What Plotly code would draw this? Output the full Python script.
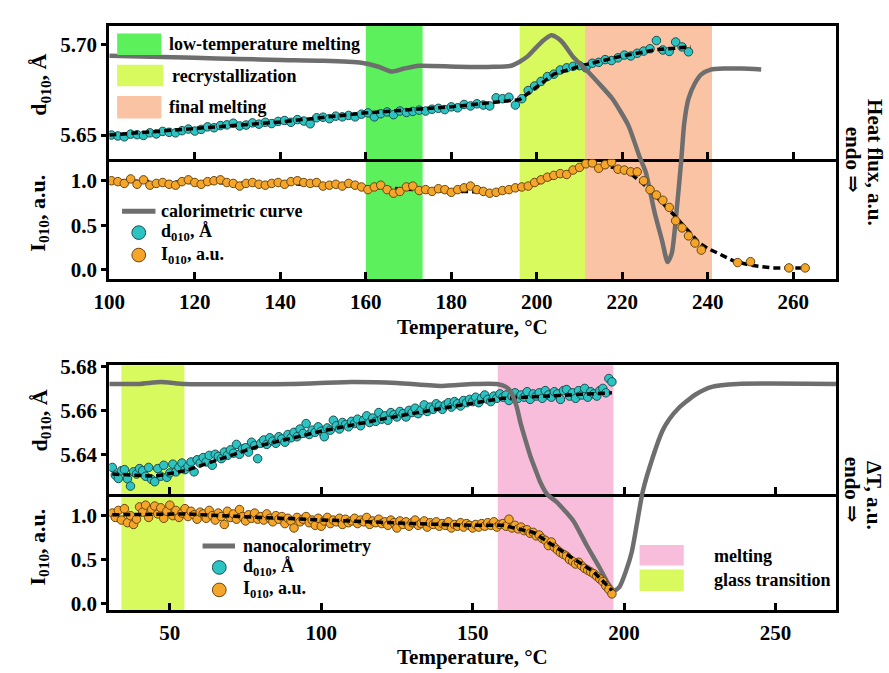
import plotly.graph_objects as go

# ---------------- DATA ----------------
# Top panel (DSC heating): temperature grid of XRD frames
T_top = [100.5, 102.0, 103.5, 105.0, 106.5, 108.0, 109.5, 111.0, 112.5, 114.0,
         115.5, 117.0, 118.5, 120.0, 121.5, 123.0, 124.5, 126.0, 127.5, 129.0,
         130.5, 132.0, 133.5, 135.0, 136.5, 138.0, 139.5, 141.0, 142.5, 144.0,
         145.5, 147.0, 148.5, 150.0, 151.5, 153.0, 154.5, 156.0, 157.5, 159.0,
         160.5, 162.0, 163.5, 165.0, 166.5, 168.0, 169.5, 171.0, 172.5, 174.0,
         175.5, 177.0, 178.5, 180.0, 181.5, 183.0, 184.5, 186.0, 187.5, 189.0,
         190.5, 192.0, 193.5, 195.0, 196.5, 198.0, 199.5, 201.0, 202.5, 204.0,
         205.5, 207.0, 208.5, 210.0, 211.5, 213.0, 214.5, 216.0, 217.5, 219.0,
         220.5, 222.0, 223.5, 225.0, 226.5, 228.0, 229.5, 231.0, 232.5, 234.0,
         235.5, 237.0, 238.5]
d_top = [5.6500, 5.6495, 5.6490, 5.6505, 5.6502, 5.6498, 5.6512, 5.6506, 5.6520, 5.6515,
         5.6512, 5.6524, 5.6533, 5.6522, 5.6531, 5.6545, 5.6540, 5.6552, 5.6556, 5.6565,
         5.6550, 5.6555, 5.6567, 5.6560, 5.6570, 5.6563, 5.6575, 5.6580, 5.6570, 5.6585,
         5.6577, 5.6562, 5.6595, 5.6598, 5.6590, 5.6604, 5.6600, 5.6608, 5.6600, 5.6615,
         5.6622, 5.6600, 5.6617, 5.6627, 5.6612, 5.6632, 5.6624, 5.6630, 5.6637, 5.6632,
         5.6642, 5.6647, 5.6640, 5.6655, 5.6650, 5.6668, 5.6660, 5.6672, 5.6665, 5.6660,
         5.6705, 5.6700, 5.6708, 5.6665, 5.6700, 5.6745, 5.6770, 5.6795, 5.6822, 5.6835,
         5.6858, 5.6870, 5.6878, 5.6882, 5.6870, 5.6895, 5.6900, 5.6915, 5.6910, 5.6925,
         5.6940, 5.6935, 5.6950, 5.6962, 5.6975, 5.7020, 5.6968, 5.6960, 5.7012, 5.6985,
         5.6958]
I_top = [1.00, 0.99, 0.97, 1.02, 0.96, 1.01, 0.95, 0.97, 0.98, 0.96,
         0.95, 0.99, 1.01, 0.98, 0.96, 0.99, 1.00, 1.01, 0.98, 0.97,
         0.94, 0.97, 0.98, 0.96, 0.95, 0.97, 0.98, 0.96, 0.99, 1.00,
         0.98, 0.97, 0.98, 0.94, 0.95, 0.96, 0.94, 0.97, 0.95, 0.93,
         0.90, 0.93, 0.95, 0.90, 0.86, 0.88, 0.93, 0.94, 0.89, 0.90,
         0.88, 0.91, 0.90, 0.87, 0.90, 0.92, 0.94, 0.90, 0.88, 0.86,
         0.87, 0.89, 0.90, 0.92, 0.93, 0.94, 0.98, 1.01, 1.04, 1.06,
         1.08, 1.07, 1.12, 1.15, 1.19, 1.20, 1.14, 1.18, 1.21, 1.13,
         1.12, 1.10, 1.10, 1.00, 0.90, 0.84, 0.78, 0.70, 0.55, 0.47,
         0.38, 0.30, 0.22]
T_top_tail = [247.0, 250.0, 259.0, 262.8]
I_top_tail = [0.08, 0.09, 0.02, 0.02]

T_fit_top_d = [100, 120, 140, 160, 180, 196, 204, 211, 220, 228, 236]
d_fit_top = [5.6500, 5.6535, 5.6572, 5.6622, 5.6655, 5.6695, 5.6835, 5.6885, 5.6935, 5.6970, 5.6985]
T_fit_top_I = [100, 120, 140, 160, 175, 190, 200, 212, 218, 222, 226, 232, 238, 240, 246, 250, 255, 262]
I_fit_top = [1.00, 0.98, 0.97, 0.93, 0.89, 0.87, 0.97, 1.18, 1.15, 1.08, 0.92, 0.62, 0.30, 0.24, 0.10, 0.05, 0.02, 0.02]

# DSC heat flux (a.u., endo down)
T_dsc = [100, 110, 120, 130, 140, 150, 159, 163, 166, 169, 172.4, 181.6, 190, 194, 196, 198,
         199.3, 201.6, 203.4, 205, 206.2, 208.5, 211.5, 214.5, 217.7, 221.4, 224.1, 225.5,
         227.6, 229.3, 230.6, 231.6, 232.6, 233.8, 234.5, 235.5, 237, 238.5, 240.7, 244, 248, 252.5]
hf_dsc = [0.881, 0.877, 0.873, 0.869, 0.865, 0.862, 0.854, 0.838, 0.819, 0.831, 0.842, 0.838,
          0.838, 0.842, 0.858, 0.881, 0.904, 0.942, 0.962, 0.950, 0.931, 0.877, 0.827, 0.773,
          0.712, 0.608, 0.481, 0.423, 0.262, 0.154, 0.069, 0.104, 0.250, 0.469, 0.615, 0.712,
          0.773, 0.808, 0.827, 0.831, 0.831, 0.827]

# Bottom panel (nanocalorimetry)
T_bot = [31, 32, 33, 34, 35, 36, 37, 38, 39, 40, 41, 42, 43, 44, 45, 46, 47, 48, 49, 50,
         51, 52, 53, 54, 55, 56, 57, 58, 59, 60, 61, 62, 63, 64, 65, 66, 67, 68, 69, 70,
         71, 72, 73, 74, 75, 76, 77, 78, 79, 80, 81, 82, 83, 84, 85, 86, 87, 88, 89, 90,
         91, 92, 93, 94, 95, 96, 97, 98, 99, 100, 101, 102, 103, 104, 105, 106, 107, 108, 109, 110,
         111, 112, 113, 114, 115, 116, 117, 118, 119, 120, 121, 122, 123, 124, 125, 126, 127, 128, 129, 130,
         131, 132, 133, 134, 135, 136, 137, 138, 139, 140, 141, 142, 143, 144, 145, 146, 147, 148, 149, 150,
         151, 152, 153, 154, 155, 156, 157, 158, 159, 160, 161, 162, 163, 164, 165, 166, 167, 168, 169, 170,
         171, 172, 173, 174, 175, 176, 177, 178, 179, 180, 181, 182, 183, 184, 185, 186, 187, 188, 189, 190,
         191, 192, 193, 194, 195, 196]
d_bot = [5.6340, 5.6305, 5.6290, 5.6325, 5.6330, 5.6288, 5.6255, 5.6320, 5.6310, 5.6335,
         5.6325, 5.6300, 5.6340, 5.6285, 5.6275, 5.6335, 5.6300, 5.6350, 5.6295, 5.6315,
         5.6355, 5.6320, 5.6340, 5.6360, 5.6330, 5.6345, 5.6365, 5.6320, 5.6375, 5.6360,
         5.6385, 5.6365, 5.6395, 5.6350, 5.6400, 5.6390, 5.6380, 5.6410, 5.6395, 5.6420,
         5.6405, 5.6445, 5.6400, 5.6425, 5.6430, 5.6410, 5.6455, 5.6440, 5.6380, 5.6450,
         5.6465, 5.6445, 5.6475, 5.6460, 5.6450, 5.6480, 5.6470, 5.6455, 5.6490, 5.6475,
         5.6500, 5.6480, 5.6515, 5.6495, 5.6540, 5.6490, 5.6510, 5.6500, 5.6525, 5.6505,
         5.6480, 5.6520, 5.6510, 5.6555, 5.6530, 5.6515, 5.6545, 5.6535, 5.6525, 5.6550,
         5.6540, 5.6560, 5.6530, 5.6555, 5.6575, 5.6545, 5.6565, 5.6550, 5.6590, 5.6560,
         5.6575, 5.6555, 5.6590, 5.6580, 5.6570, 5.6595, 5.6585, 5.6570, 5.6600, 5.6590,
         5.6610, 5.6585, 5.6600, 5.6625, 5.6595, 5.6615, 5.6605, 5.6630, 5.6620, 5.6605,
         5.6625, 5.6635, 5.6615, 5.6640, 5.6630, 5.6620, 5.6645, 5.6635, 5.6650, 5.6640,
         5.6660, 5.6635, 5.6655, 5.6670, 5.6650, 5.6640, 5.6665, 5.6655, 5.6675, 5.6660,
         5.6670, 5.6645, 5.6665, 5.6680, 5.6655, 5.6670, 5.6660, 5.6685, 5.6650, 5.6675,
         5.6665, 5.6680, 5.6655, 5.6690, 5.6670, 5.6660, 5.6685, 5.6675, 5.6650, 5.6690,
         5.6695, 5.6665, 5.6680, 5.6655, 5.6690, 5.6670, 5.6700, 5.6660, 5.6685, 5.6675,
         5.6665, 5.6690, 5.6700, 5.6680, 5.6745, 5.6730]
I_bot = [1.03, 0.98, 1.06, 0.95, 1.08, 0.92, 1.00, 0.90, 0.96, 1.10,
         1.04, 1.12, 0.98, 1.07, 1.11, 1.02, 1.09, 0.97, 1.05, 1.12,
         1.00, 1.06, 0.98, 1.03, 1.08, 0.99, 1.05, 1.01, 0.96, 1.04,
         1.02, 0.97, 1.06, 1.00, 0.95, 1.03, 0.99, 0.90, 1.05, 0.98,
         1.02, 0.96, 1.07, 0.99, 0.94, 1.01, 0.97, 1.03, 0.96, 0.99,
         0.95, 1.02, 0.97, 0.93, 1.00, 0.96, 0.99, 0.91, 0.97, 0.94,
         0.86, 0.98, 0.93, 0.96, 0.99, 0.92, 0.95, 0.89, 0.97, 0.88,
         0.94, 0.98, 0.91, 0.95, 0.93, 0.97, 0.90, 0.96, 0.92, 0.94,
         0.97, 0.91, 0.95, 0.93, 0.98, 0.90, 0.94, 0.92, 0.96, 0.91,
         0.93, 0.89, 0.95, 0.92, 0.86, 0.94, 0.90, 0.93, 0.88, 0.92,
         0.95, 0.89, 0.91, 0.94, 0.87, 0.92, 0.90, 0.93, 0.88, 0.91,
         0.89, 0.93, 0.86, 0.90, 0.88, 0.92, 0.87, 0.91, 0.89, 0.86,
         0.90, 0.87, 0.91, 0.88, 0.92, 0.89, 0.93, 0.87, 0.90, 0.91,
         0.88, 0.96, 0.86, 0.89, 0.85, 0.87, 0.83, 0.84, 0.80, 0.81,
         0.77, 0.78, 0.74, 0.72, 0.66, 0.70, 0.64, 0.61, 0.58, 0.56,
         0.54, 0.50, 0.48, 0.45, 0.47, 0.43, 0.40, 0.38, 0.36, 0.34,
         0.31, 0.28, 0.25, 0.20, 0.16, 0.11]

T_fit_bot_d = [31, 45, 55, 80, 100, 120, 140, 160, 196]
d_fit_bot = [5.6310, 5.6300, 5.6325, 5.6440, 5.6505, 5.6560, 5.6610, 5.6655, 5.6680]
T_fit_bot_I = [31, 55, 80, 100, 130, 150, 160, 170, 180, 190, 196]
I_fit_bot = [1.01, 1.02, 0.98, 0.95, 0.91, 0.89, 0.89, 0.81, 0.58, 0.36, 0.15]

T_nano = [30, 40, 47, 55, 90, 110, 125, 140, 150, 158, 161, 162.6, 164.5, 165.9, 167.5, 169.2,
          171, 172.4, 174.6, 177.8, 180.5, 183.4, 187.6, 191.9, 195, 196.8, 198.5, 200.7, 202.5,
          204, 206.2, 209.5, 212.7, 215, 218, 223.5, 229, 237.5, 270]
dT_nano = [0.924, 0.924, 0.932, 0.924, 0.924, 0.932, 0.928, 0.916, 0.924, 0.924, 0.912, 0.892,
           0.833, 0.761, 0.693, 0.625, 0.566, 0.522, 0.474, 0.442, 0.406, 0.363, 0.267, 0.175,
           0.104, 0.080, 0.096, 0.163, 0.235, 0.335, 0.486, 0.625, 0.733, 0.781, 0.825, 0.880,
           0.912, 0.924, 0.924]

bands_top = [(160.0, 173.3, "#5cf05c"), (196.0, 211.3, "#d8fa5e"), (211.3, 241.0, "#f9c3a4")]
bands_bot = [(34.0, 54.8, "#d8fa5e"), (158.3, 196.5, "#f9bddc")]

ticks_top_x = [100, 120, 140, 160, 180, 200, 220, 240, 260]
ticks_bot_x = [50, 100, 150, 200, 250]

# ---------------- STYLE / LAYOUT ----------------
W, H = 889, 673
def px(x): return x / W
def py(y): return 1 - y / H

FONT = "Liberation Serif, Times New Roman, DejaVu Serif, serif"
CYAN, CYAN_EDGE = "#2cc4c2", "#1d4f50"
ORANGE, ORANGE_EDGE = "#f4a52a", "#6a4610"
GRAY = "#6e6e6e"

XD = [px(95), px(835)]
D1 = [py(152), py(15)]
D2 = [py(275), py(152)]
D3 = [py(495), py(363)]
D4 = [py(614), py(495)]
DC1 = [py(275), py(15)]
DC2 = [py(614), py(363)]

fig = go.Figure()

mk_c = dict(color=CYAN, size=8.5, line=dict(color=CYAN_EDGE, width=1))
mk_o = dict(color=ORANGE, size=8.5, line=dict(color=ORANGE_EDGE, width=1))
fitline = dict(color="black", width=3.5, dash="7px,4px")

# calorimetric curves (drawn first)
fig.add_trace(go.Scatter(x=T_dsc, y=hf_dsc, xaxis="x", yaxis="y5", mode="lines",
                         line=dict(color=GRAY, width=4.5, shape="spline", smoothing=0.6)))
fig.add_trace(go.Scatter(x=T_nano, y=dT_nano, xaxis="x3", yaxis="y6", mode="lines",
                         line=dict(color=GRAY, width=4.5, shape="spline", smoothing=0.6)))

# top panel
fig.add_trace(go.Scatter(x=T_top[:len(d_top)], y=d_top, xaxis="x", yaxis="y", mode="markers", marker=mk_c))
fig.add_trace(go.Scatter(x=T_fit_top_d, y=d_fit_top, xaxis="x", yaxis="y", mode="lines", line=fitline))
fig.add_trace(go.Scatter(x=T_fit_top_I, y=I_fit_top, xaxis="x2", yaxis="y2", mode="lines", line=fitline))
fig.add_trace(go.Scatter(x=T_top + T_top_tail, y=I_top + I_top_tail, xaxis="x2", yaxis="y2",
                         mode="markers", marker=mk_o))
# bottom panel
fig.add_trace(go.Scatter(x=T_bot, y=d_bot, xaxis="x3", yaxis="y3", mode="markers", marker=mk_c))
fig.add_trace(go.Scatter(x=T_fit_bot_d, y=d_fit_bot, xaxis="x3", yaxis="y3", mode="lines", line=fitline))
fig.add_trace(go.Scatter(x=T_bot, y=I_bot, xaxis="x4", yaxis="y4", mode="markers", marker=mk_o))
fig.add_trace(go.Scatter(x=T_fit_bot_I, y=I_fit_bot, xaxis="x4", yaxis="y4", mode="lines", line=fitline))

tickfont = dict(family=FONT, size=21, color="black", weight="bold")
common = dict(showline=True, linecolor="black", linewidth=3, mirror=True, showgrid=False,
              zeroline=False, tickfont=tickfont, tickcolor="black", tickwidth=2.5)

xa = dict(common, ticks="inside", ticklen=7)
xa_low = dict(xa, mirror=False)
ya = dict(common, ticks="outside", ticklen=5)

shapes = []
for (a, b, c) in bands_top:
    shapes.append(dict(type="rect", xref="x", yref="paper", x0=a, x1=b, y0=DC1[0], y1=DC1[1],
                       fillcolor=c, line=dict(width=0), layer="below"))
for (a, b, c) in bands_bot:
    shapes.append(dict(type="rect", xref="x3", yref="paper", x0=a, x1=b, y0=DC2[0], y1=DC2[1],
                       fillcolor=c, line=dict(width=0), layer="below"))

ann = []
def text(x, y, s, size=18, angle=0, xanchor="left"):
    ann.append(dict(x=px(x), y=py(y), xref="paper", yref="paper", text=s, showarrow=False,
                    xanchor=xanchor, yanchor="middle", textangle=angle, borderpad=0,
                    font=dict(family=FONT, size=size, color="black", weight="bold")))

def rect(x0, y0, x1, y1, c):
    shapes.append(dict(type="rect", xref="paper", yref="paper", x0=px(x0), x1=px(x1),
                       y0=py(y1), y1=py(y0), fillcolor=c, line=dict(width=0), layer="above"))

def circ(cx, cy, r, c, e):
    shapes.append(dict(type="circle", xref="paper", yref="paper", x0=px(cx - r), x1=px(cx + r),
                       y0=py(cy + r), y1=py(cy - r), fillcolor=c, line=dict(color=e, width=1), layer="above"))

def hline(x0, x1, y):
    shapes.append(dict(type="line", xref="paper", yref="paper", x0=px(x0), x1=px(x1),
                       y0=py(y), y1=py(y), line=dict(color=GRAY, width=5), layer="above"))

# legend 1 (top)
rect(103, 23, 148, 45, "#5cf05c"); text(155, 34, "low-temperature melting")
rect(103, 55, 150, 77, "#d8fa5e"); text(158, 67, "recrystallization")
rect(103, 87, 148, 110, "#f9c3a4"); text(155, 98, "final melting")
# legend 2
hline(108, 142, 205); text(147, 205, "calorimetric curve")
circ(125, 227, 7, CYAN, CYAN_EDGE); text(147, 227, "d<sub>010</sub>, Å")
circ(125, 250, 7, ORANGE, ORANGE_EDGE); text(147, 250, "I<sub>010</sub>, a.u.")
# legend 3
hline(190, 223, 548); text(230, 548, "nanocalorimetry")
circ(207, 570, 7, CYAN, CYAN_EDGE); text(230, 570, "d<sub>010</sub>, Å")
circ(207, 593, 7, ORANGE, ORANGE_EDGE); text(230, 593, "I<sub>010</sub>, a.u.")
# legend 4
rect(635, 547, 680, 568, "#f9bddc"); text(710, 558, "melting")
rect(635, 572, 680, 594, "#d8fa5e"); text(710, 583, "glass transition")

# axis titles
text(25, 76, "d<sub>010</sub>, Å", size=22, angle=-90, xanchor="center")
text(23, 207, "I<sub>010</sub>, a.u.", size=22, angle=-90, xanchor="center")
text(25, 420, "d<sub>010</sub>, Å", size=22, angle=-90, xanchor="center")
text(23, 549, "I<sub>010</sub>, a.u.", size=22, angle=-90, xanchor="center")
text(465, 324, "Temperature, °C", size=21, xanchor="center")
text(465, 662, "Temperature, °C", size=21, xanchor="center")
text(874, 155, "Heat flux, a.u.", size=21, angle=90, xanchor="center")
text(852, 152, "endo ⇒", size=21, angle=90, xanchor="center")
text(874, 496, "ΔT, a.u.", size=21, angle=90, xanchor="center")
text(851, 490, "endo ⇒", size=21, angle=90, xanchor="center")

fig.update_layout(
    width=W, height=H, margin=dict(l=0, r=0, t=0, b=0),
    paper_bgcolor="white", plot_bgcolor="rgba(0,0,0,0)", showlegend=False,
    font=dict(family=FONT, size=18, color="black"),
    xaxis=dict(xa, domain=XD, range=[100, 270], anchor="y", tickvals=ticks_top_x, showticklabels=False),
    xaxis2=dict(xa_low, domain=XD, range=[100, 270], anchor="y2", tickvals=ticks_top_x, ticklabelstandoff=1),
    xaxis3=dict(xa, domain=XD, range=[30, 270], anchor="y3", tickvals=ticks_bot_x, showticklabels=False),
    xaxis4=dict(xa_low, domain=XD, range=[30, 270], anchor="y4", tickvals=ticks_bot_x, ticklabelstandoff=1),
    yaxis=dict(ya, domain=D1, range=[5.6366, 5.7102], anchor="x", tickvals=[5.65, 5.70], ticktext=["5.65", "5.70"]),
    yaxis2=dict(ya, domain=D2, range=[-0.11, 1.24], anchor="x2", tickvals=[0, 0.5, 1.0], ticktext=["0.0", "0.5", "1.0"]),
    yaxis3=dict(ya, domain=D3, range=[5.6218, 5.6805], anchor="x3", tickvals=[5.64, 5.66, 5.68], ticktext=["5.64", "5.66", "5.68"]),
    yaxis4=dict(ya, domain=D4, range=[-0.078, 1.244], anchor="x4", tickvals=[0, 0.5, 1.0], ticktext=["0.0", "0.5", "1.0"]),
    yaxis5=dict(domain=DC1, range=[0, 1], anchor="x", visible=False, showgrid=False, zeroline=False),
    yaxis6=dict(domain=DC2, range=[0, 1], anchor="x3", visible=False, showgrid=False, zeroline=False),
    shapes=shapes, annotations=ann,
)

fig.write_html("out.html", config={"displayModeBar": False},
               post_script="document.body.style.margin='0';document.body.style.overflow='hidden';")
